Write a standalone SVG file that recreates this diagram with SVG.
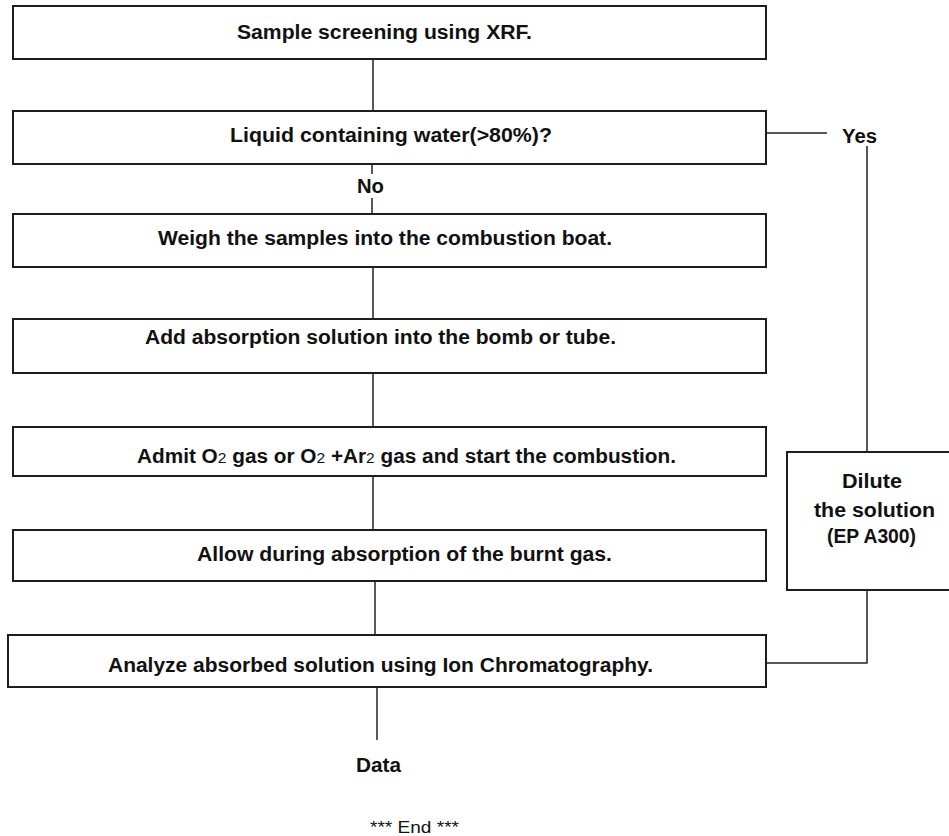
<svg xmlns="http://www.w3.org/2000/svg" width="949" height="836" viewBox="0 0 949 836">
<style>
.box{fill:#fff;stroke:#1e1e1e;stroke-width:2}
.ln{stroke:#222;stroke-width:1.5;fill:none}
.t{font-family:"Liberation Sans Narrow","Liberation Sans",Arial,sans-serif;font-weight:bold;font-size:20px;fill:#111}
.s{font-weight:normal;font-size:15px}
.end{font-family:"Liberation Sans",Arial,sans-serif;font-size:17px;fill:#111}
</style>
<rect width="949" height="836" fill="#fff"/>
<g id="connectors">
<line class="ln" x1="373" y1="59" x2="373" y2="111"/>
<line class="ln" x1="372" y1="163" x2="372" y2="174"/>
<line class="ln" x1="372" y1="198" x2="372" y2="214"/>
<line class="ln" x1="373" y1="267" x2="373" y2="319"/>
<line class="ln" x1="373" y1="373" x2="373" y2="427"/>
<line class="ln" x1="373" y1="476" x2="373" y2="530"/>
<line class="ln" x1="375" y1="581" x2="375" y2="635"/>
<line class="ln" x1="377" y1="687" x2="377" y2="740"/>
<line class="ln" x1="762" y1="133" x2="827" y2="133"/>
<line class="ln" x1="867" y1="146" x2="867" y2="452"/>
<polyline class="ln" points="867,590 867,663 766,663"/>
<text class="t" x="357" y="193" textLength="27" lengthAdjust="spacingAndGlyphs">No</text>
<text class="t" x="842" y="143" font-size="19" textLength="35" lengthAdjust="spacingAndGlyphs">Yes</text>
</g>
<g id="n1">
<rect class="box" x="13" y="6" width="753" height="53"/>
<text class="t" x="237" y="39" textLength="295" lengthAdjust="spacingAndGlyphs">Sample screening using XRF.</text>
</g>
<g id="n2">
<rect class="box" x="13" y="111" width="753" height="53"/>
<text class="t" x="230" y="142" textLength="322" lengthAdjust="spacingAndGlyphs">Liquid containing water(&gt;80%)?</text>
</g>
<g id="n3">
<rect class="box" x="13" y="214" width="753" height="53"/>
<text class="t" x="158" y="245" textLength="454" lengthAdjust="spacingAndGlyphs">Weigh the samples into the combustion boat.</text>
</g>
<g id="n4">
<rect class="box" x="13" y="319" width="753" height="54"/>
<text class="t" x="145" y="344" textLength="471" lengthAdjust="spacingAndGlyphs">Add absorption solution into the bomb or tube.</text>
</g>
<g id="n5">
<rect class="box" x="13" y="427" width="753" height="49"/>
<text class="t" x="137" y="463" textLength="539" lengthAdjust="spacingAndGlyphs">Admit O<tspan class="s">2</tspan> gas or O<tspan class="s">2</tspan> +Ar<tspan class="s">2</tspan> gas and start the combustion.</text>
</g>
<g id="n6">
<rect class="box" x="13" y="530" width="753" height="51"/>
<text class="t" x="197" y="561" textLength="415" lengthAdjust="spacingAndGlyphs">Allow during absorption of the burnt gas.</text>
</g>
<g id="n7">
<rect class="box" x="8" y="635" width="758" height="52"/>
<text class="t" x="108" y="672" textLength="545" lengthAdjust="spacingAndGlyphs">Analyze absorbed solution using Ion Chromatography.</text>
</g>
<g id="n8">
<rect class="box" x="787" y="452" width="180" height="138"/>
<text class="t" x="842" y="488" textLength="60" lengthAdjust="spacingAndGlyphs">Dilute</text>
<text class="t" x="814" y="517" textLength="121" lengthAdjust="spacingAndGlyphs">the solution</text>
<text class="t" x="827" y="543" textLength="89" lengthAdjust="spacingAndGlyphs">(EP A300)</text>
</g>
<g id="n9">
<text class="t" x="356" y="772" textLength="45" lengthAdjust="spacingAndGlyphs">Data</text>
</g>
<g id="n10">
<text class="end" x="370" y="833" textLength="89" lengthAdjust="spacingAndGlyphs">*** End ***</text>
</g>
</svg>
